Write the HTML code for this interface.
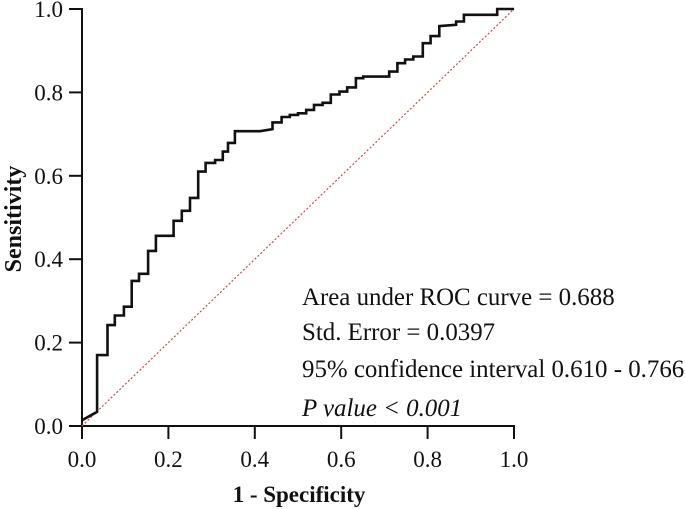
<!DOCTYPE html>
<html><head><meta charset="utf-8"><style>
body{margin:0;background:#fff}
svg{display:block}
text{font-family:"Liberation Serif",serif;fill:#111}
</style></head><body>
<svg id="chart" width="685" height="509" viewBox="0 0 685 509" xmlns="http://www.w3.org/2000/svg">
<g id="axes"></g>
<line x1="82" y1="426" x2="514" y2="9" stroke="#c0504d" stroke-width="1.2" stroke-dasharray="2,2"/>
<polyline id="roc" fill="none" stroke="#111" stroke-width="2.6" stroke-linejoin="miter"/>
<text transform="translate(21,219) rotate(-90)" text-anchor="middle" font-size="24" font-weight="bold">Sensitivity</text>
<text x="299" y="502" text-anchor="middle" font-size="23" font-weight="bold">1 - Specificity</text>
<g font-size="24.9">
<text x="302" y="305">Area under ROC curve = 0.688</text>
<text x="302" y="340">Std. Error = 0.0397</text>
<text x="302" y="377">95% confidence interval 0.610 - 0.766</text>
<text x="302" y="416" font-style="italic">P value &lt; 0.001</text>
</g>
</svg>
<script>
const fpr=[0,0.035,0.035,0.059,0.059,0.076,0.076,0.097,0.097,0.115,0.115,0.132,0.132,0.153,0.153,0.171,0.171,0.212,0.212,0.231,0.231,0.25,0.25,0.269,0.269,0.286,0.286,0.308,0.308,0.326,0.326,0.338,0.338,0.354,0.354,0.412,0.441,0.441,0.462,0.462,0.481,0.481,0.5,0.5,0.519,0.519,0.537,0.537,0.557,0.557,0.576,0.576,0.596,0.596,0.614,0.614,0.634,0.634,0.651,0.651,0.711,0.711,0.73,0.73,0.748,0.748,0.767,0.767,0.789,0.789,0.807,0.807,0.827,0.827,0.866,0.866,0.884,0.884,0.961,0.961,1];
const tpr=[0.014,0.034,0.17,0.17,0.242,0.242,0.265,0.265,0.286,0.286,0.348,0.348,0.365,0.365,0.42,0.42,0.456,0.456,0.492,0.492,0.516,0.516,0.547,0.547,0.61,0.61,0.631,0.631,0.638,0.638,0.658,0.658,0.679,0.679,0.707,0.707,0.712,0.728,0.728,0.741,0.741,0.746,0.746,0.75,0.75,0.758,0.758,0.77,0.77,0.775,0.775,0.795,0.795,0.802,0.802,0.812,0.812,0.834,0.834,0.838,0.838,0.85,0.85,0.87,0.87,0.879,0.879,0.886,0.886,0.918,0.918,0.935,0.935,0.959,0.962,0.97,0.97,0.986,0.986,1,1];
const xTicks=["0.0","0.2","0.4","0.6","0.8","1.0"];
const yTicks=["0.0","0.2","0.4","0.6","0.8","1.0"];
const X=v=>82+v*432, Y=v=>426-v*417;
const NS="http://www.w3.org/2000/svg";
const axes=document.getElementById('axes');
function mk(tag,attrs,parent){const e=document.createElementNS(NS,tag);for(const k in attrs)e.setAttribute(k,attrs[k]);parent.appendChild(e);return e;}
const xa=mk('line',{x1:69,y1:426,x2:515,y2:426,stroke:'#111','stroke-width':2},axes);


const ya=mk('line',{x1:82,y1:8,x2:82,y2:439,stroke:'#111','stroke-width':2},axes);


xTicks.forEach(t=>{const v=parseFloat(t);
 const l=mk('line',{x1:X(v),y1:426,x2:X(v),y2:439,stroke:'#111','stroke-width':2},axes);
 
 
 const tx=mk('text',{x:X(v),y:467,'text-anchor':'middle','font-size':23},axes);tx.textContent=t;
 
 });
yTicks.forEach(t=>{const v=parseFloat(t);
 const l=mk('line',{x1:69,y1:Y(v),x2:82,y2:Y(v),stroke:'#111','stroke-width':2},axes);
 
 
 const tx=mk('text',{x:63,y:Y(v)+8,'text-anchor':'end','font-size':23},axes);tx.textContent=t;
 
 });
document.getElementById('roc').setAttribute('points',fpr.map((f,i)=>X(f).toFixed(1)+','+Y(tpr[i]).toFixed(1)).join(' '));
</script>
</body></html>
